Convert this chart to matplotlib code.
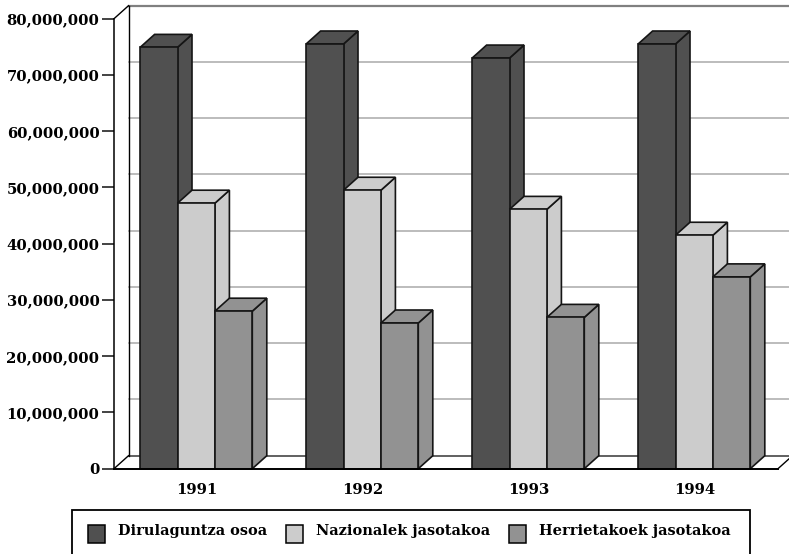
import matplotlib
matplotlib.use("Agg")
import matplotlib.pyplot as plt
from matplotlib.patches import Polygon, Rectangle

years = ["1991", "1992", "1993", "1994"]
series = ["Dirulaguntza osoa", "Nazionalek jasotakoa", "Herrietakoek jasotakoa"]
total = [74.9e6, 75.5e6, 73.0e6, 75.5e6]
national = [47.2e6, 49.5e6, 46.1e6, 41.5e6]
local = [28.0e6, 25.9e6, 26.9e6, 34.1e6]
values = [total, national, local]
yticks = [0, 10e6, 20e6, 30e6, 40e6, 50e6, 60e6, 70e6, 80e6]

front = ["#505050", "#cccccc", "#929292"]
W, H = 789, 554
FONT = "DejaVu Serif"
fig = plt.figure(figsize=(W / 100, H / 100), dpi=100)
L, R, T, B = 114, 778, 18.7, 468.7
ax = fig.add_axes([L / W, 1 - B / H, (R - L) / W, (B - T) / H])
ax.set_xlim(-0.5, 3.5)
ax.set_ylim(0, 80e6)
ax.patch.set_visible(False)
for s in ax.spines.values():
    s.set_visible(False)

pxx = 4 / (R - L)
pxy = 80e6 / (B - T)
dx, dy = 14.5 * pxx, 13 * pxy
bw = 37.4 * pxx
nudge = -0.8 * pxx


def poly(pts, fc, lw=1.2, ec="#151515", z=3):
    ax.add_patch(Polygon(pts, closed=True, fc=fc, ec=ec, lw=lw, clip_on=False, zorder=z, joinstyle="miter"))


x0, x1 = -0.5, 3.5
# back wall gridlines
for v in yticks[1:-1]:
    ax.plot([x0 + dx, x1 + dx], [v + dy, v + dy], color="#b0b0b0", lw=1.2, clip_on=False, zorder=1)
ax.plot([x0 + dx, x1 + dx], [80e6 + dy] * 2, color="#808080", lw=1.6, clip_on=False, zorder=1)
ax.plot([x0 + dx, x1 + dx], [dy, dy], color="#606060", lw=1.4, clip_on=False, zorder=1)
# left wall and floor
ax.plot([x0 + dx, x0 + dx], [dy, 80e6 + dy], color="black", lw=1.0, clip_on=False, zorder=2)
ax.plot([x0, x0], [0, 80e6], color="black", lw=1.1, clip_on=False, zorder=2)
ax.plot([x0, x0 + dx], [80e6, 80e6 + dy], color="black", lw=1.0, clip_on=False, zorder=2)
ax.plot([x0, x0 + dx], [0, dy], color="black", lw=1.0, clip_on=False, zorder=2)
ax.plot([x1, x1 + dx], [0, dy], color="black", lw=1.0, clip_on=False, zorder=2)

# bars: each later series overlaps the side of the one before it
for g in range(len(years)):
    for s in range(3):
        left = g + (s - 1.5) * bw + nudge
        right = left + bw
        v = values[s][g]
        z = 3 + s * 0.1
        poly([(right, 0), (right + dx, dy), (right + dx, v + dy), (right, v)], front[s], z=z)
        poly([(left, v), (left + dx, v + dy), (right + dx, v + dy), (right, v)], front[s], z=z)
        poly([(left, 0), (right, 0), (right, v), (left, v)], front[s], z=z)

ax.plot([x0, x1], [0, 0], color="black", lw=1.4, clip_on=False, zorder=5)

ax.set_xticks(range(len(years)))
ax.set_xticklabels(years, family=FONT, fontweight="bold", fontsize=10.7)
ax.tick_params(axis="x", length=0, pad=10)
ax.set_yticks(yticks)
ax.set_yticklabels([f"{int(v):,}" for v in yticks], family=FONT, fontweight="bold", fontsize=10.6)
ax.tick_params(axis="y", length=9, width=1.2, pad=1.5, color="#222222")

# legend
lax = fig.add_axes([0, 0, 1, 1])
lax.set_xlim(0, W)
lax.set_ylim(H, 0)
lax.axis("off")
lax.add_patch(Rectangle((72, 510), 678, 60, fc="white", ec="black", lw=1.3))
for sx, tx, name, c in zip([88, 286, 509], [118, 316, 539], series, front):
    lax.add_patch(Rectangle((sx, 524.5), 17, 18.5, fc=c, ec="black", lw=1.1))
    lax.text(tx, 531, name, family=FONT, fontweight="bold", fontsize=10.45, va="center", ha="left")

fig.savefig("out.png", dpi=100)
